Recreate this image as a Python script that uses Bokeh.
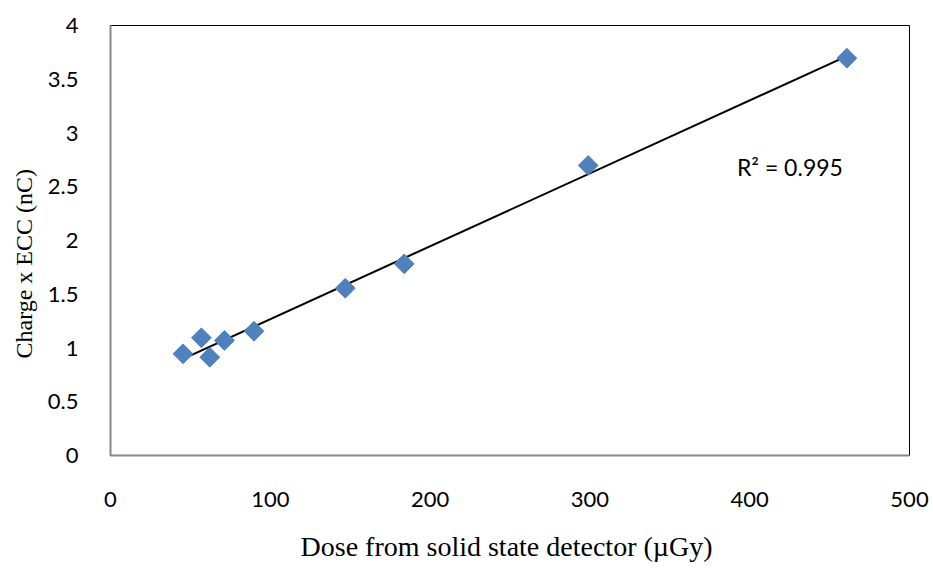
import numpy as np
from bokeh.plotting import figure
from bokeh.models import Range1d, FixedTicker, Label, Title
from bokeh.embed import file_html
from bokeh.resources import INLINE

# ---- data ----
dose = [45.4, 56.9, 62.1, 71.3, 89.8, 146.9, 183.8, 298.9, 460.8]        # µGy
charge = [0.946, 1.095, 0.914, 1.070, 1.156, 1.556, 1.783, 2.698, 3.696]  # nC
x_ticks = [0, 100, 200, 300, 400, 500]
y_ticks = [0, 0.5, 1, 1.5, 2, 2.5, 3, 3.5, 4]
y_tick_labels = ["0", "0.5", "1", "1.5", "2", "2.5", "3", "3.5", "4"]
x_title = "Dose from  solid state detector (\u00b5Gy)"
y_title = "Charge x ECC (nC)"
r2_text = "R\u00b2 = 0.995"

# linear trendline (least squares) over the data span
slope, intercept = np.polyfit(dose, charge, 1)
trend_x = [min(dose), max(dose)]
trend_y = [slope * v + intercept for v in trend_x]

p = figure(width=933, height=568,
           x_range=Range1d(0, 500), y_range=Range1d(0, 4),
           output_backend="svg", toolbar_location=None,
           min_border_left=110, min_border_right=24,
           min_border_top=25, min_border_bottom=113)

p.background_fill_color = "white"
p.border_fill_color = "white"
p.outline_line_color = "black"
p.outline_line_width = 1
p.xgrid.grid_line_color = None
p.ygrid.grid_line_color = None

p.xaxis.ticker = FixedTicker(ticks=x_ticks)
p.yaxis.ticker = FixedTicker(ticks=y_ticks)
p.yaxis.major_label_overrides = {t: l for t, l in zip(y_ticks, y_tick_labels)}

for ax in (p.xaxis, p.yaxis):
    ax.major_tick_line_color = None
    ax.minor_tick_line_color = None
    ax.axis_line_color = "#898989"
    ax.axis_line_width = 2
    ax.major_label_text_font = "Lato"
    ax.major_label_text_font_size = "22px"
    ax.major_label_text_color = "black"
    ax.axis_label_text_font = "Liberation Serif"
    ax.axis_label_text_font_style = "normal"
    ax.axis_label_text_color = "black"

p.xaxis.axis_label = x_title
p.xaxis.axis_label_text_font_size = "28px"
p.xaxis.major_label_standoff = 30
p.yaxis.major_label_standoff = 26
p.xaxis.axis_label_standoff = 21

p.line(trend_x, trend_y, line_color="black", line_width=2)
p.scatter(dose, charge, marker="square", size=14, angle=np.pi / 4,
          fill_color="#4F81BD", line_color="#4F81BD")

p.add_layout(Label(x=392, y=2.68, text=r2_text, text_font="Lato",
                   text_font_size="23px", text_color="black",
                   text_baseline="middle", text_align="left"))

# y-axis title, placed in the left panel and offset downward as in the reference
p.add_layout(Title(text=y_title, align="left", offset=97, standoff=16,
                   text_font="Liberation Serif", text_font_size="24px",
                   text_font_style="normal", text_color="black"), "left")

open("out.html", "w").write(file_html(p, INLINE))
